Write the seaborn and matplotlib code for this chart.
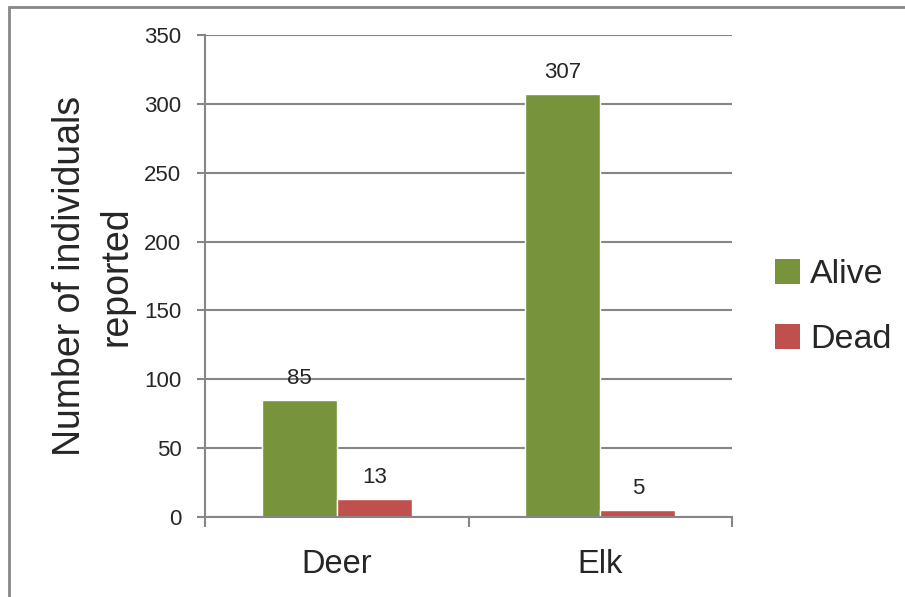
import matplotlib
matplotlib.use("Agg")
import matplotlib.pyplot as plt
import seaborn as sns
import pandas as pd
from matplotlib.patches import Rectangle, Patch

species = ["Deer", "Elk"]
status = ["Alive", "Dead"]
alive = [85, 307]
dead = [13, 5]
yticks = [0, 50, 100, 150, 200, 250, 300, 350]
colors = ["#77933C", "#C0504D"]

df = pd.DataFrame({
    "species": species * 2,
    "status": [status[0]] * 2 + [status[1]] * 2,
    "value": alive + dead,
})

sns.set_theme(style="white")
plt.rcParams['font.family'] = ['Liberation Sans', 'DejaVu Sans']

fig = plt.figure(figsize=(9.05, 5.97), dpi=100)
ax = fig.add_axes([205/905, 1-517/597, (732-205)/905, (517-35)/597])

sns.barplot(data=df, x="species", y="value", hue="status", order=species,
            hue_order=status, palette=colors, width=0.57, ax=ax,
            saturation=1, legend=False, errorbar=None)

ax.set_ylim(0, 350)
ax.set_xlim(-0.5, 1.5)
ax.set_yticks(yticks)
ax.set_yticklabels([str(t) for t in yticks], fontsize=16)
ax.yaxis.grid(True, color="#868686", linewidth=1.5)
ax.set_axisbelow(True)

for s in ["top", "right"]:
    ax.spines[s].set_visible(False)
for s in ["left", "bottom"]:
    ax.spines[s].set_color("#868686")
    ax.spines[s].set_linewidth(1.5)

ax.tick_params(axis="y", which="both", left=True, length=6, width=1.5,
               color="#868686", pad=11)
# x ticks at category boundaries
ax.set_xticks([0, 1])
ax.set_xticklabels(species, fontsize=23.5)
ax.tick_params(axis="x", which="major", length=0, pad=23)
ax.set_xticks([-0.5, 0.5, 1.5], minor=True)
ax.tick_params(axis="x", which="minor", bottom=True, length=7, width=1.5,
               color="#868686")

ax.set_xlabel("")
ax.set_ylabel("Number of individuals\nreported", fontsize=27, labelpad=7,
              linespacing=1.38)

for cont in ax.containers:
    for bar in cont:
        h = bar.get_height()
        ax.annotate(f"{int(h)}", (bar.get_x() + bar.get_width()/2, h),
                    xytext=(0, 8), textcoords="offset points",
                    ha="center", va="bottom", fontsize=16)

handles = [Patch(facecolor=c, edgecolor="none") for c in colors]
fig.legend(handles, status, loc="center left",
           bbox_to_anchor=(744/905, 1-307/597), frameon=False,
           fontsize=24.5, handlelength=0.75, handleheight=0.75,
           handletextpad=0.3, labelspacing=1.0)

fig.patches.append(Rectangle((8.5/905, -0.05), 1.1, 1-6.5/597 + 0.05,
                             transform=fig.transFigure, fill=False,
                             edgecolor="#888888", linewidth=2, zorder=-1))

fig.savefig("out.png", dpi=100)
